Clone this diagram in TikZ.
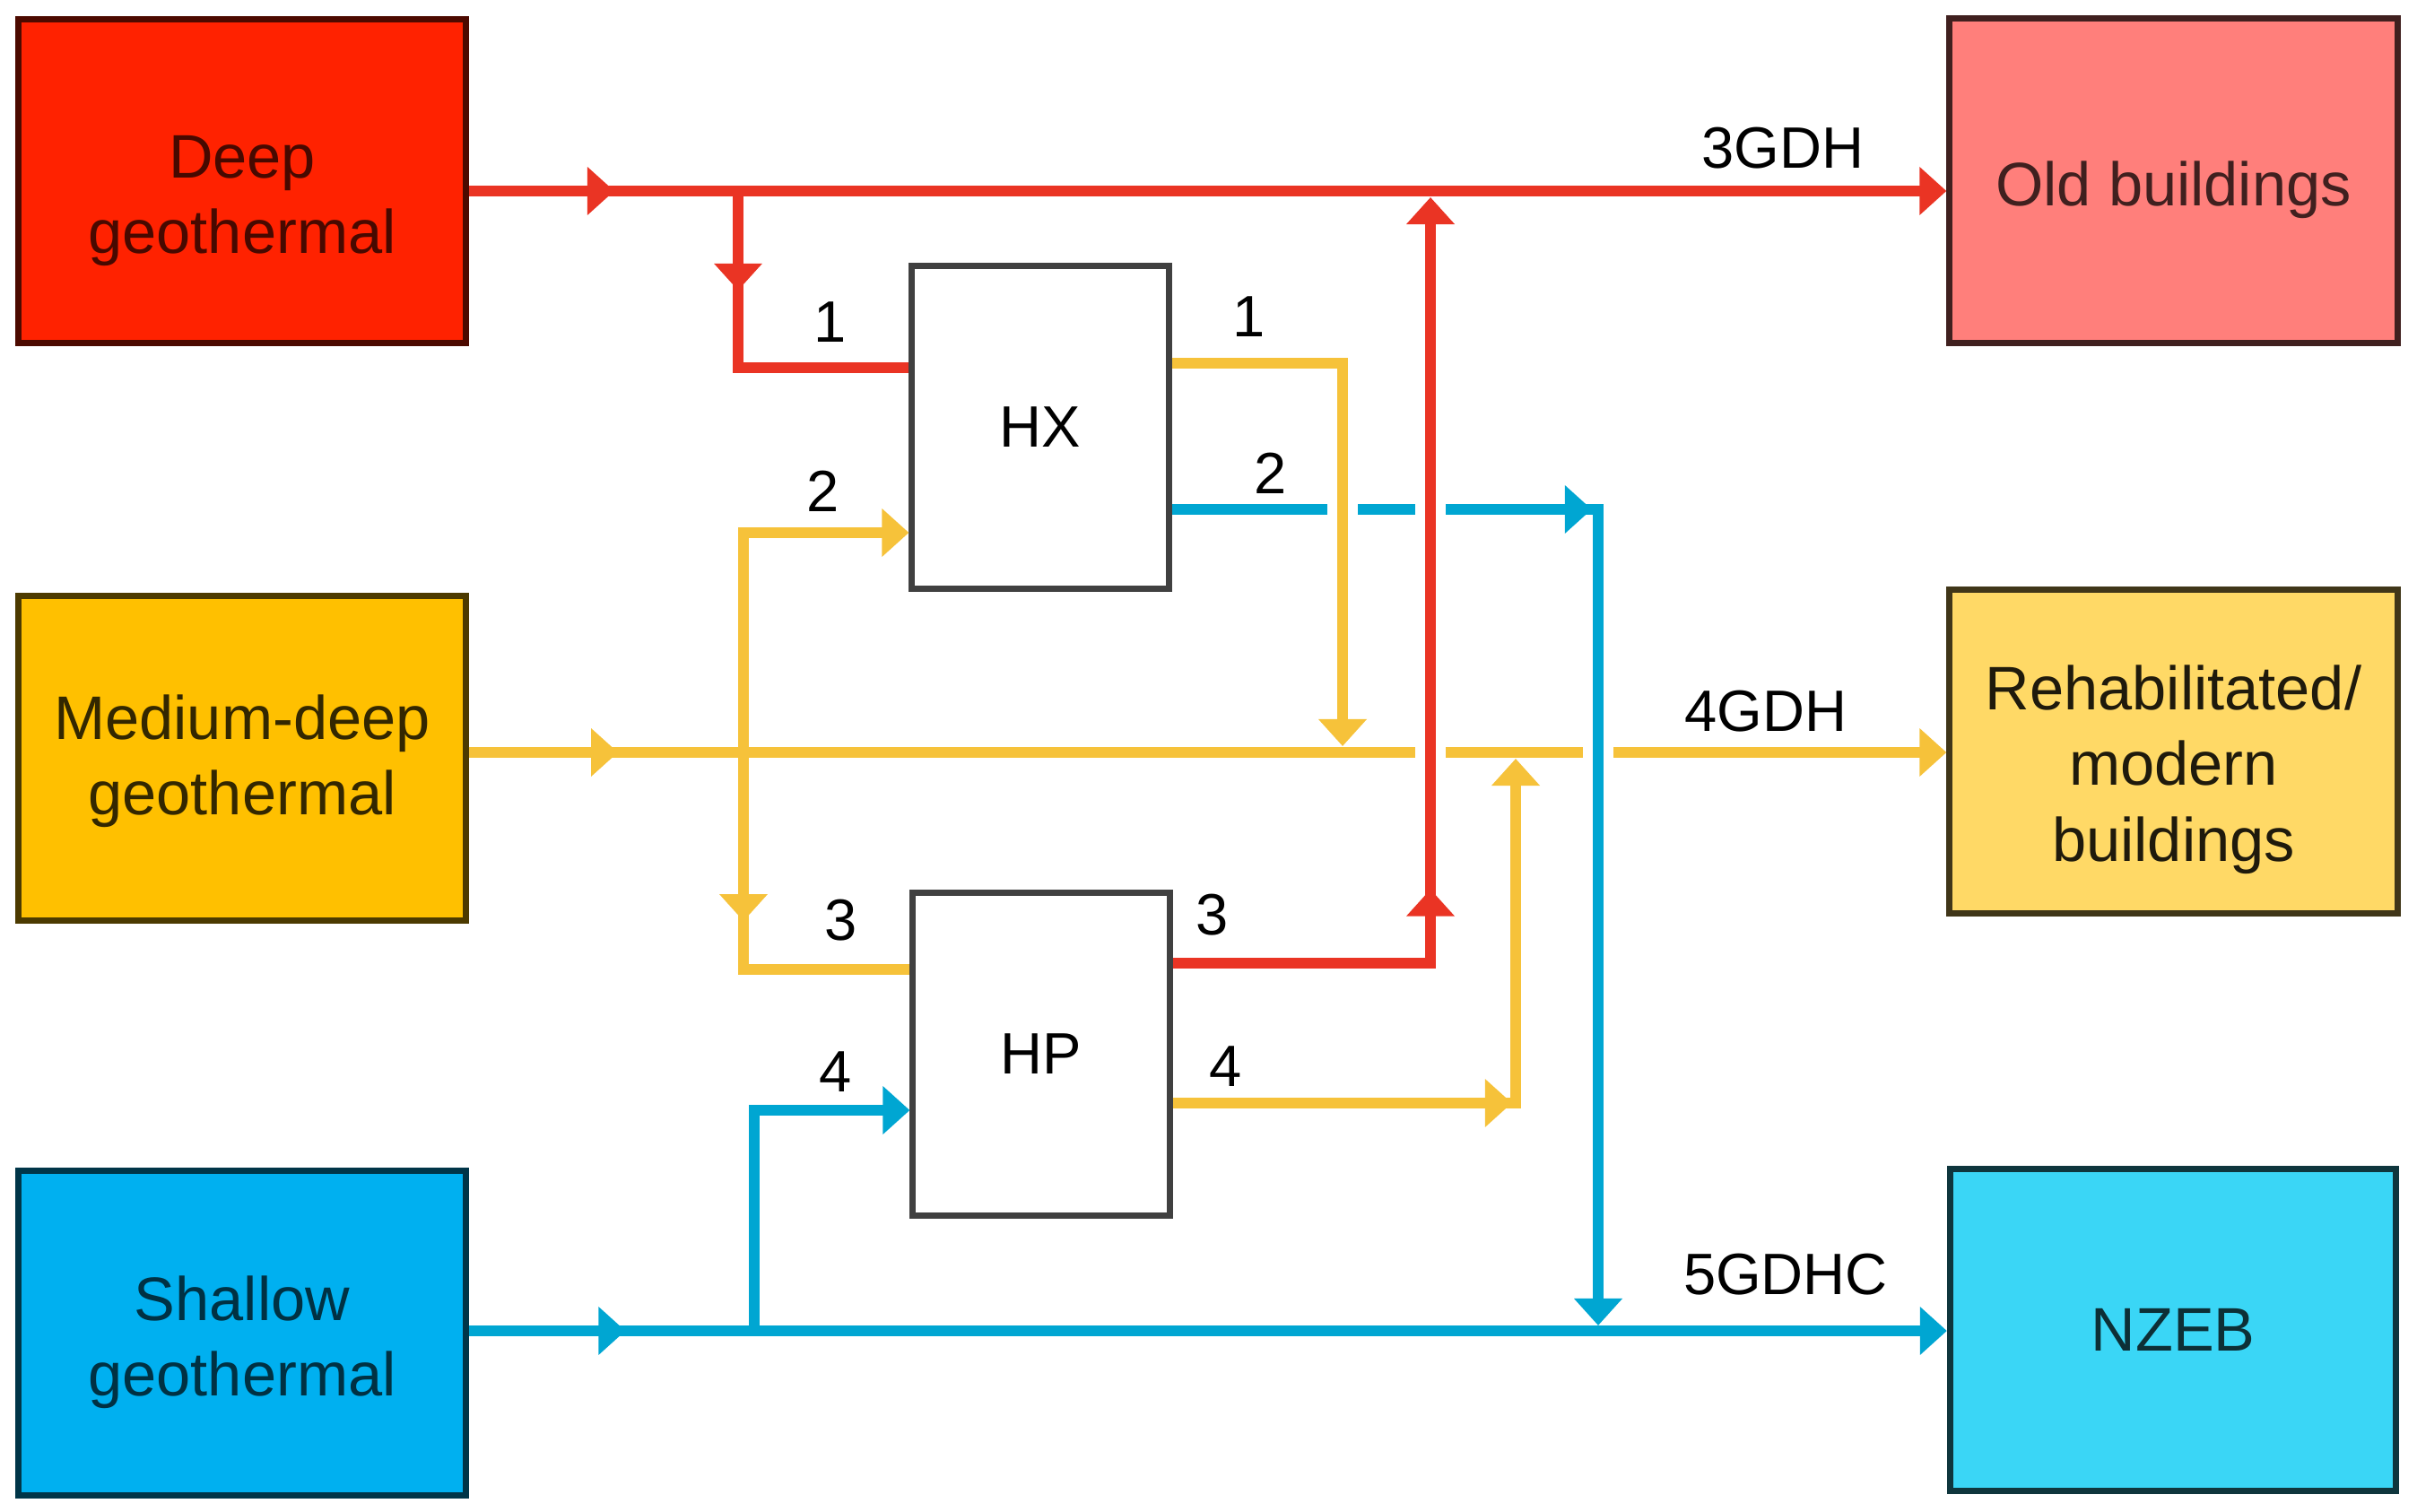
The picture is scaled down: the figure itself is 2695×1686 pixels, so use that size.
\documentclass[tikz,border=0pt]{standalone}
\usepackage{fontspec}
\setmainfont{Liberation Sans}
\usetikzlibrary{arrows.meta,decorations.markings}
\definecolor{cDeep}{HTML}{FF2200}
\definecolor{cMed}{HTML}{FFC000}
\definecolor{cShal}{HTML}{00B0F0}
\definecolor{cOld}{HTML}{FF7F7B}
\definecolor{cReh}{HTML}{FFD966}
\definecolor{cNz}{HTML}{3AD6F6}
\definecolor{lRed}{HTML}{EA3424}
\definecolor{lYel}{HTML}{F6C23A}
\definecolor{lBlu}{HTML}{00A6D2}
\begin{document}
\begin{tikzpicture}[x=0.01cm,y=-0.01cm,
  src/.style={draw, line width=2pt, minimum width=4.98cm, minimum height=3.61cm, inner sep=0pt},
  boxtext/.style n args={3}{label={[label distance=0pt, inner sep=0pt, align=center, yshift=-#1, text=#2, font=\fontsize{19.5}{24}\selectfont]center:#3}},
  dev/.style={draw=black!75, line width=2pt, fill=white, minimum width=2.86cm, minimum height=3.6cm, inner sep=0pt, font=\fontsize{18.5}{22}\selectfont},
  pipe/.style={line width=3.6pt, line join=miter},
  redp/.style={pipe, color=lRed},
  yelp/.style={pipe, color=lYel},
  blup/.style={pipe, color=lBlu},
  endtip/.style={-{Triangle[length=0.3cm,width=0.52cm]}},
  midtip/.style={postaction={decorate}, decoration={markings, mark=at position #1 with {\arrow{Triangle[length=0.3cm,width=0.52cm]}}}},
  lbl/.style={inner sep=0pt, font=\fontsize{18.5}{22}\selectfont},
  gapbox/.style={fill=white, draw=none},
]
\fill[white] (0,0) rectangle (2695,1686);
\useasboundingbox (0,0) rectangle (2695,1686);

% level coordinates
\coordinate (yR) at (0,213);
\coordinate (yY) at (0,839);
\coordinate (yB) at (0,1484);
\coordinate (yHX1) at (0,410);
\coordinate (yHX1o) at (0,405);
\coordinate (yHX2i) at (0,594);
\coordinate (yHX2o) at (0,568);
\coordinate (yHP3i) at (0,1081);
\coordinate (yHP3o) at (0,1074);
\coordinate (yHP4i) at (0,1238);
\coordinate (yHP4o) at (0,1230);
\coordinate (xRb) at (823,0);
\coordinate (xYb) at (829,0);
\coordinate (xBb) at (841,0);
\coordinate (xY1) at (1497,0);
\coordinate (xRv) at (1595,0);
\coordinate (xY4) at (1690,0);
\coordinate (xBv) at (1782,0);

% boxes
\node[src, fill=cDeep, draw=black!70!cDeep, boxtext={0.22cm}{black!72!cDeep}{Deep\\geothermal}] (deep) at (270,202) {};
\node[src, fill=cMed, draw=black!70!cMed, boxtext={0.03cm}{black!80!cMed}{Medium-deep\\geothermal}] (med) at (270,845.5) {};
\node[src, fill=cShal, draw=black!70!cShal, boxtext={0.1cm}{black!72!cShal}{Shallow\\geothermal}] (shal) at (270,1486.5) {};
\node[src, minimum width=4.99cm, fill=cOld, draw=black!75!cOld, boxtext={0.1cm}{black!75!cOld}{Old buildings}] (old) at (2423.5,201.5) {};
\node[src, minimum width=4.99cm, fill=cReh, draw=black!75!cReh, boxtext={0.2cm}{black!88!cReh}{Rehabilitated/\\modern\\buildings}] (reh) at (2423.5,838) {};
\node[src, minimum width=4.97cm, minimum height=3.58cm, fill=cNz, draw=black!75!cNz, boxtext={0cm}{black!78!cNz}{NZEB}] (nzeb) at (2423,1483) {};
\node[dev] (hx) at (1160,476.5) {HX};
\node[dev] (hp) at (1161,1175.5) {HP};

% main lines
\draw[redp, endtip, midtip=0.0985] (deep.east |- yR) -- (old.west |- yR);
\draw[yelp, endtip, midtip=0.101] (med.east |- yY) -- (reh.west |- yY);
\draw[blup, endtip, midtip=0.106] (shal.east |- yB) -- (nzeb.west |- yB);

% red branch to HX
\draw[redp, midtip=0.286] (xRb |- yR) -- (xRb |- yHX1) -- (hx.west |- yHX1);
% yellow branches to HX and HP
\draw[yelp, endtip] (xYb |- yY) -- (xYb |- yHX2i) -- (hx.west |- yHX2i);
\draw[yelp, midtip=0.44] (xYb |- yY) -- (xYb |- yHP3i) -- (hp.west |- yHP3i);
% blue branch to HP
\draw[blup, endtip] (xBb |- yB) -- (xBb |- yHP4i) -- (hp.west |- yHP4i);

% gaps in yellow main line
\fill[gapbox] (1578,826) rectangle (1612,852);
\fill[gapbox] (1765,826) rectangle (1799,852);
% blue HX output 2
\coordinate (bEnd) at (1782,1478);
\draw[blup, endtip, midtip=0.338] (hx.east |- yHX2o) -- (xBv |- yHX2o) -- (bEnd);
% gaps in blue line
\fill[gapbox] (1480,555) rectangle (1514,581);
\fill[gapbox] (1578,555) rectangle (1612,581);
% yellow HX output 1
\coordinate (y1End) at (1497,832);
\draw[yelp, endtip] (hx.east |- yHX1o) -- (xY1 |- yHX1o) -- (y1End);
% red HP output 3
\coordinate (r3End) at (1595,220);
\draw[redp, endtip, midtip=0.324] (hp.east |- yHP3o) -- (xRv |- yHP3o) -- (r3End);
% yellow HP output 4
\coordinate (y4End) at (1690,846);
\draw[yelp, endtip, midtip=0.4935] (hp.east |- yHP4o) -- (xY4 |- yHP4o) -- (y4End);

% labels
\node[lbl] (l1a) at (926,359) {1};
\node[lbl] (l2a) at (918,548) {2};
\node[lbl] (l1b) at (1393,353) {1};
\node[lbl] (l2b) at (1417,528) {2};
\node[lbl] (l3a) at (938,1026) {3};
\node[lbl] (l4a) at (932,1195) {4};
\node[lbl] (l3b) at (1352,1020) {3};
\node[lbl] (l4b) at (1367,1189) {4};
\node[lbl] (g3) at (1988,165) {3GDH};
\node[lbl] (g4) at (1969,793) {4GDH};
\node[lbl] (g5) at (1991,1421) {5GDHC};
\end{tikzpicture}
\end{document}
